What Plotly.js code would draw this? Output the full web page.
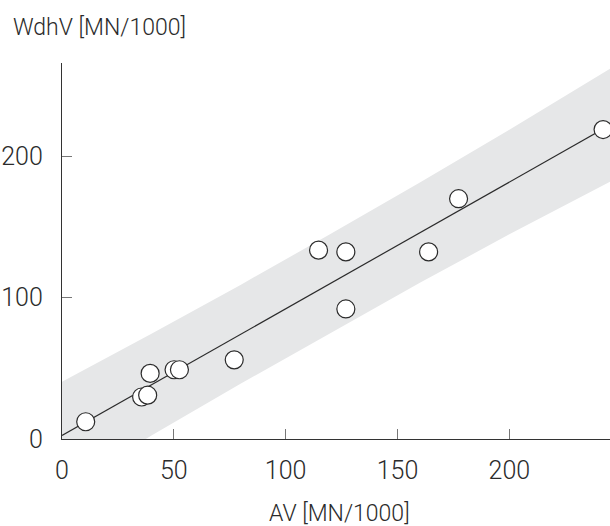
<!DOCTYPE html>
<html>
<head>
<meta charset="utf-8">
<script src="https://cdn.plot.ly/plotly-3.0.1.min.js"></script>
<style>html,body{margin:0;padding:0;background:#fff;}#chart{width:610px;height:526px;}</style>
</head>
<body>
<div id="chart"></div>
<script>
// Observed points: AV vs WdhV (MN/1000)
const avValues   = [10.6, 35.6, 38.3, 39.4, 50.1, 52.5, 77.0, 114.7, 126.9, 126.9, 163.9, 177.3, 241.9];
const wdhvValues = [12.2, 29.7, 31.0, 46.4, 49.0, 49.0, 56.0, 133.6, 132.4, 92.0, 132.4, 170.0, 218.9];

// Regression line end points
const lineX = [0, 245];
const lineY = [2.5, 222.1];

// Prediction band edges
const bandX     = [0, 40, 80, 120, 160, 200, 245];
const bandUpper = [40.5, 74.4, 109.2, 145.0, 181.5, 218.8, 262.0];
const bandLower = [-35.5, 2.4, 39.2, 75.0, 110.5, 144.8, 182.0];

const xTicks = [0, 50, 100, 150, 200];
const yTicks = [0, 100, 200];

const FONT = 'Roboto, "DejaVu Sans Condensed", sans-serif';
const TXT = '#2b2b2b';

const traces = [
  {x: bandX, y: bandLower, mode: 'lines', line: {width: 0, color: 'rgba(0,0,0,0)'}, hoverinfo: 'skip', showlegend: false},
  {x: bandX, y: bandUpper, mode: 'lines', fill: 'tonexty', fillcolor: '#e6e7e8', line: {width: 0, color: 'rgba(0,0,0,0)'}, hoverinfo: 'skip', showlegend: false},
  {x: lineX, y: lineY, mode: 'lines', line: {color: '#2b2b2b', width: 1.2}, showlegend: false},
  {x: avValues, y: wdhvValues, mode: 'markers', cliponaxis: false,
   marker: {size: 18, color: '#ffffff', line: {color: '#2b2b2b', width: 1.2}}, showlegend: false}
];

const tickFont = {family: FONT, size: 25, weight: 300, color: TXT};
const titleFont = {family: FONT, size: 23, weight: 300, color: TXT};

const layout = {
  width: 610, height: 526,
  margin: {l: 62, r: 0, t: 63, b: 87, pad: 0},
  paper_bgcolor: '#ffffff', plot_bgcolor: '#ffffff',
  font: {family: FONT, color: TXT},
  showlegend: false,
  xaxis: {
    range: [0, 245], showgrid: false, zeroline: false,
    showline: true, linecolor: '#333', linewidth: 1.2,
    ticks: 'inside', ticklen: 10, tickwidth: 1.2, tickcolor: '#777',
    tickvals: xTicks, ticktext: xTicks.map(String),
    tickfont: tickFont,
    ticklabelstandoff: 9
  },
  yaxis: {
    range: [0, 266], showgrid: false, zeroline: false,
    showline: true, linecolor: '#333', linewidth: 1.2,
    ticks: 'inside', ticklen: 10, tickwidth: 1.2, tickcolor: '#777',
    tickvals: yTicks, ticktext: yTicks.map(String),
    tickfont: tickFont,
    ticklabelstandoff: 13
  },
  annotations: [
    {text: 'WdhV [MN/1000]', xref: 'paper', yref: 'paper', x: -0.093, y: 1.095,
     xanchor: 'left', yanchor: 'middle', showarrow: false,
     font: titleFont},
    {text: 'AV [MN/1000]', xref: 'paper', yref: 'paper', x: 0.506, y: -0.197,
     xanchor: 'center', yanchor: 'middle', showarrow: false,
     font: titleFont}
  ]
};

Plotly.newPlot('chart', traces, layout, {displayModeBar: false, staticPlot: true});
</script>
</body>
</html>
